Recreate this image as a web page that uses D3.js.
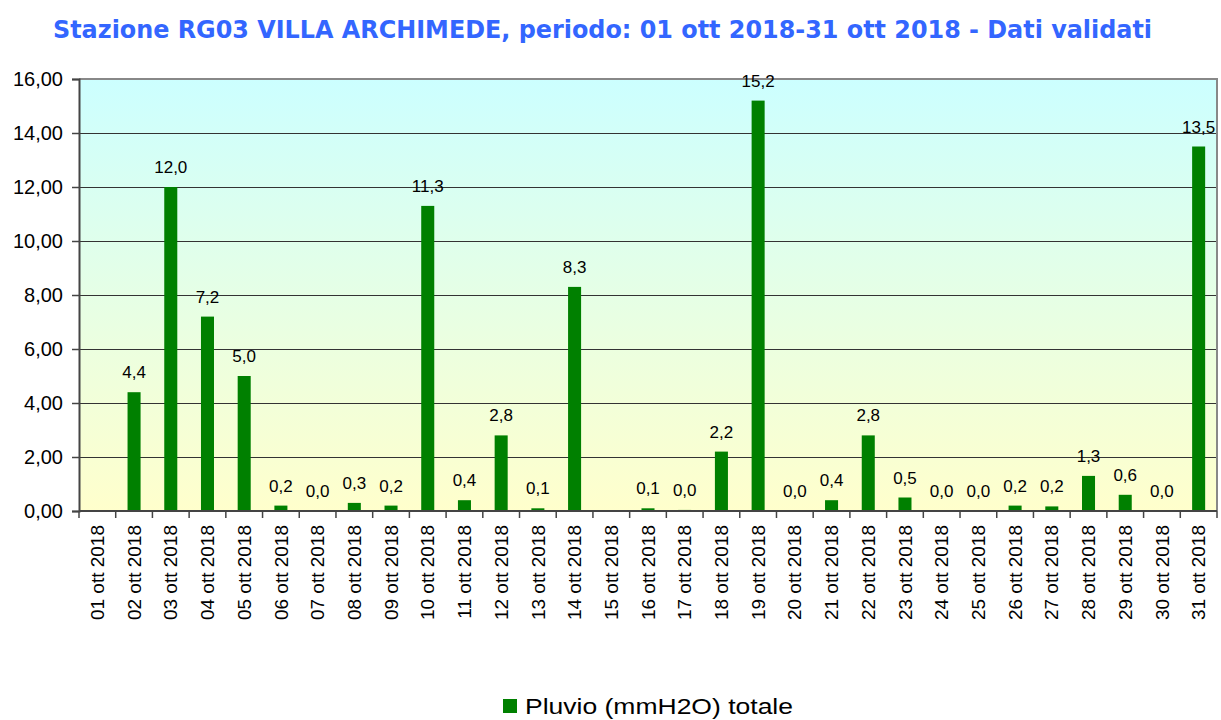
<!DOCTYPE html>
<html>
<head>
<meta charset="utf-8">
<script src="https://cdn.jsdelivr.net/npm/d3@7"></script>
<style>
  body { margin: 0; background: #fff; }
  svg { display: block; }
</style>
</head>
<body>
<svg id="chart" width="1221" height="720"></svg>
<script>
// dati giornalieri, ottobre 2018
var days = ["01 ott 2018", "02 ott 2018", "03 ott 2018", "04 ott 2018", "05 ott 2018",
  "06 ott 2018", "07 ott 2018", "08 ott 2018", "09 ott 2018", "10 ott 2018",
  "11 ott 2018", "12 ott 2018", "13 ott 2018", "14 ott 2018", "15 ott 2018",
  "16 ott 2018", "17 ott 2018", "18 ott 2018", "19 ott 2018", "20 ott 2018",
  "21 ott 2018", "22 ott 2018", "23 ott 2018", "24 ott 2018", "25 ott 2018",
  "26 ott 2018", "27 ott 2018", "28 ott 2018", "29 ott 2018", "30 ott 2018",
  "31 ott 2018"];

// null = dato mancante (nessuna etichetta)
var pluvio = [null, 4.4, 12.0, 7.2, 5.0,
  0.2, 0.0, 0.3, 0.2, 11.3,
  0.4, 2.8, 0.1, 8.3, null,
  0.1, 0.04, 2.2, 15.2, 0.0,
  0.4, 2.8, 0.5, 0.0, 0.0,
  0.2, 0.17, 1.3, 0.6, 0.0,
  13.5];

var yTicks = [0, 2, 4, 6, 8, 10, 12, 14, 16];

var title = "Stazione RG03 VILLA ARCHIMEDE, periodo: 01 ott 2018-31 ott 2018 - Dati validati";
var seriesName = "Pluvio (mmH2O) totale";

var svg = d3.select("#chart"),
  pLeft = 79, pRight = 1217, pTop = 79, pBottom = 511;

var fmt = function (v) { return v.toFixed(1).replace(".", ","); };
var fmt2 = function (v) { return v.toFixed(2).replace(".", ","); };

var rows = days.map(function (d, i) { return { day: d, v: pluvio[i] }; });

var x = d3.scaleBand()
  .domain(days)
  .range([pLeft, pRight])
  .paddingInner(0.645)
  .paddingOuter(0.3225);

var xEdge = d3.scaleLinear().domain([0, days.length]).range([pLeft, pRight]);

var y = d3.scaleLinear().domain([0, 16]).range([pBottom, pTop]);

// sfondo sfumato
var defs = svg.append("defs");
var grad = defs.append("linearGradient")
  .attr("id", "bg")
  .attr("x1", 0).attr("y1", 0).attr("x2", 0).attr("y2", 1);
grad.append("stop").attr("offset", "0%").attr("stop-color", "#CCFFFF");
grad.append("stop").attr("offset", "100%").attr("stop-color", "#FFFFCC");

svg.append("rect")
  .attr("x", pLeft).attr("y", pTop)
  .attr("width", pRight - pLeft).attr("height", pBottom - pTop)
  .attr("fill", "url(#bg)");

// griglia
svg.append("g").selectAll("line")
  .data(yTicks.filter(function (d) { return d > 0 && d < 16; }))
  .enter().append("line")
  .attr("x1", pLeft).attr("x2", pRight)
  .attr("y1", function (d) { return Math.round(y(d)) + 0.5; })
  .attr("y2", function (d) { return Math.round(y(d)) + 0.5; })
  .attr("stroke", "#333")
  .attr("stroke-width", 1);

// bordo superiore e destro
svg.append("path")
  .attr("d", "M" + pLeft + "," + pTop + "H" + pRight + "V" + pBottom)
  .attr("fill", "none")
  .attr("stroke", "#888")
  .attr("stroke-width", 2);

// barre
svg.append("g").selectAll("rect")
  .data(rows)
  .enter().append("rect")
  .attr("x", function (d) { return x(d.day); })
  .attr("width", x.bandwidth())
  .attr("y", function (d) { return y(d.v || 0); })
  .attr("height", function (d) { return y(0) - y(d.v || 0); })
  .attr("fill", "#008000");

// etichette valori
svg.append("g").selectAll("text")
  .data(rows.filter(function (d) { return d.v !== null; }))
  .enter().append("text")
  .attr("x", function (d) { return x(d.day) + x.bandwidth() / 2; })
  .attr("y", function (d) { return y(d.v) - 14; })
  .attr("text-anchor", "middle")
  .style("font-family", "Arial, 'Liberation Sans', sans-serif")
  .style("font-size", "17px")
  .attr("fill", "#000")
  .text(function (d) { return fmt(d.v); });

// asse Y
var yAxis = d3.axisLeft(y)
  .tickValues(yTicks)
  .tickFormat(fmt2)
  .tickSize(7)
  .tickPadding(9);

var gy = svg.append("g")
  .attr("transform", "translate(" + pLeft + ",0)")
  .call(yAxis);
gy.select(".domain").attr("stroke", "#444").attr("stroke-width", 2);
gy.selectAll(".tick line").attr("stroke", "#444").attr("stroke-width", 1.5);
gy.selectAll(".tick text")
  .style("font-family", "Arial, 'Liberation Sans', sans-serif")
  .style("font-size", "20px")
  .attr("fill", "#000");

// asse X
var gx = svg.append("g");
gx.append("line")
  .attr("x1", pLeft).attr("x2", pRight)
  .attr("y1", pBottom).attr("y2", pBottom)
  .attr("stroke", "#444").attr("stroke-width", 2);
gx.selectAll("line.tick")
  .data(d3.range(days.length + 1))
  .enter().append("line")
  .attr("class", "tick")
  .attr("x1", function (d) { return xEdge(d); })
  .attr("x2", function (d) { return xEdge(d); })
  .attr("y1", pBottom).attr("y2", pBottom + 7)
  .attr("stroke", "#444").attr("stroke-width", 1.5);
gx.selectAll("text")
  .data(days)
  .enter().append("text")
  .attr("transform", function (d) {
    return "translate(" + (x(d) + x.bandwidth() / 2) + "," + (pBottom + 14) + ") rotate(-90)";
  })
  .attr("dy", "0.35em")
  .attr("text-anchor", "end")
  .style("font-family", "Arial, 'Liberation Sans', sans-serif")
  .style("font-size", "19px")
  .attr("fill", "#000")
  .text(function (d) { return d; });

// titolo
svg.append("text")
  .attr("x", 53)
  .attr("y", 38)
  .attr("textLength", 1099)
  .attr("lengthAdjust", "spacingAndGlyphs")
  .style("font-family", "Verdana, 'DejaVu Sans', sans-serif")
  .style("font-weight", "bold")
  .style("font-size", "24px")
  .attr("fill", "#3366FF")
  .text(title);

// legenda
var legend = svg.append("g");
legend.append("rect")
  .attr("x", 503).attr("y", 699)
  .attr("width", 14).attr("height", 14)
  .attr("fill", "#008000");
legend.append("text")
  .attr("x", 525).attr("y", 714)
  .attr("textLength", 268)
  .attr("lengthAdjust", "spacingAndGlyphs")
  .style("font-family", "Arial, 'Liberation Sans', sans-serif")
  .style("font-size", "22px")
  .attr("fill", "#000")
  .text(seriesName);
</script>
</body>
</html>
